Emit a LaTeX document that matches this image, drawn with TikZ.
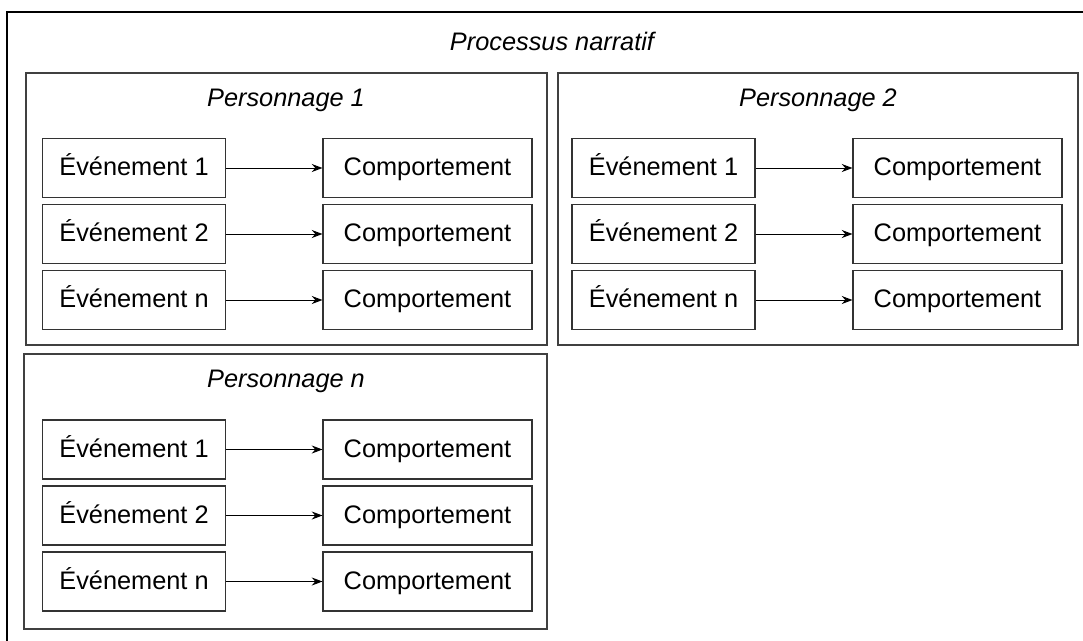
\documentclass[tikz,border=0pt]{standalone}
\usepackage{fontspec}
\setmainfont{Liberation Sans}
\usetikzlibrary{arrows.meta}
\begin{document}
\begin{tikzpicture}[x=0.75pt,y=-0.75pt,
  every node/.style={font=\fontsize{19}{22}\selectfont, text=black},
  boxbase/.style={draw=black!80, line width=0.8pt, minimum height=44.25pt, inner sep=0pt, text height=14.4pt, text depth=2.8pt},
  evbox/.style={boxbase, minimum width=137.25pt},
  cobox/.style={boxbase, minimum width=156.75pt},
  grp/.style={draw=black!75, line width=0.8pt},
  ttl/.style={font=\fontsize{19}{22}\selectfont\itshape},
  conn/.style={line width=0.75pt, -{Stealth[length=8pt,width=6pt]}}
]
\useasboundingbox (0,0) rectangle (1083,640);
% outer frame (cropped at right and bottom)
\draw[line width=1.1pt] (1090,12) -- (7,12) -- (7,650);
\node[ttl] (title) at (552,41) {Processus narratif};
% group boxes
\draw[grp] (26,73) rectangle (547,345);
\draw[grp] (558,73) rectangle (1078,345);
\draw[grp] (24,354) rectangle (547,629);
\node[ttl] (t1) at (286,100) {Personnage 1};
\node[ttl] (t2) at (818,100) {Personnage 2};
\node[ttl] (tn) at (286,381) {Personnage n};
% Personnage 1
\node[evbox] (a1) at (134,168) {Événement 1};
\node[evbox] (a2) at (134,234) {Événement 2};
\node[evbox] (a3) at (134,300) {Événement n};
\node[cobox] (b1) at (427.5,168) {Comportement};
\node[cobox] (b2) at (427.5,234) {Comportement};
\node[cobox] (b3) at (427.5,300) {Comportement};
% Personnage 2
\node[evbox] (c1) at (663.5,168) {Événement 1};
\node[evbox] (c2) at (663.5,234) {Événement 2};
\node[evbox] (c3) at (663.5,300) {Événement n};
\node[cobox] (d1) at (957.5,168) {Comportement};
\node[cobox] (d2) at (957.5,234) {Comportement};
\node[cobox] (d3) at (957.5,300) {Comportement};
% Personnage n
\node[evbox] (e1) at (134,449.5) {Événement 1};
\node[evbox] (e2) at (134,515.5) {Événement 2};
\node[evbox] (e3) at (134,581.5) {Événement n};
\node[cobox] (f1) at (427.5,449.5) {Comportement};
\node[cobox] (f2) at (427.5,515.5) {Comportement};
\node[cobox] (f3) at (427.5,581.5) {Comportement};
\foreach \s/\t in {a1/b1,a2/b2,a3/b3,c1/d1,c2/d2,c3/d3,e1/f1,e2/f2,e3/f3}
  \draw[conn] (\s) -- (\t);
\end{tikzpicture}
\end{document}
